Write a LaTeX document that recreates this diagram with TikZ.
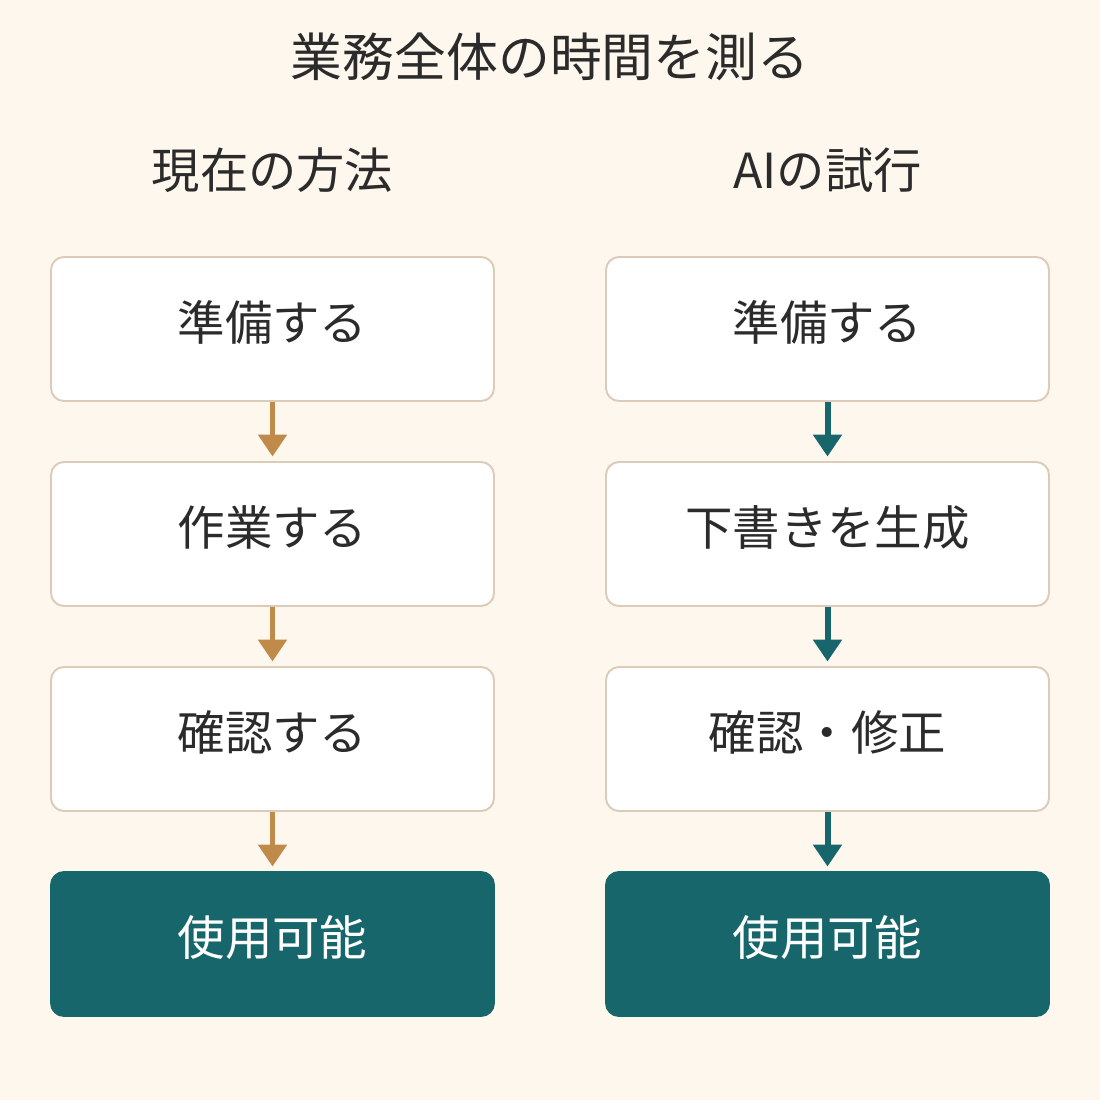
\documentclass[tikz,border=0pt]{standalone}
\usepackage{fontspec}
\setmainfont{Noto Sans CJK JP}
\usetikzlibrary{positioning,arrows.meta}
\definecolor{bgcream}{HTML}{FEF7EE}
\definecolor{edgetan}{HTML}{DCCBB8}
\definecolor{tealdark}{HTML}{17666B}
\definecolor{goldarrow}{HTML}{C08A4A}
\definecolor{inkdark}{HTML}{2B2B2B}

\begin{document}
\begin{tikzpicture}[node distance=4.1cm,on grid,>={Triangle[width=5.6mm,length=4.4mm]},
		stage/.style={rectangle,rounded corners=2.6mm,draw=edgetan,line width=1.1pt,fill=white,
			minimum width=8.86cm,minimum height=2.88cm,text=inkdark,font=\fontsize{27}{30}\selectfont,
			text height=14pt,text depth=1.4pt},
		done/.style={stage,draw=tealdark,fill=tealdark,text=white},
		colhead/.style={text=inkdark,font=\fontsize{27.5}{30}\selectfont},
		flow/.style={->,line width=3.4pt,shorten >=0.9mm}]
		\fill[bgcream] (0,0) rectangle (22,-22);
		\useasboundingbox (0,0) rectangle (22,-22);
		
		\node[text=inkdark,font=\fontsize{29.5}{32}\selectfont] (title) at (11,-1.14) {業務全体の時間を測る};
		\node[colhead] (nowhead) at (5.45,-3.4) {現在の方法};
		\node[colhead] (aihead)  at (16.55,-3.4) {AIの試行};
		
		% current method
		\node[stage] (now1) at (5.45,-6.58) {準備する};
		\node[stage] (now2) [below=of now1] {作業する};
		\node[stage] (now3) [below=of now2] {確認する};
		\node[done]  (now4) [below=of now3] {使用可能};
		
		% AI trial
		\node[stage] (ai1) [right=11.1cm of now1] {準備する};
		\node[stage] (ai2) [below=of ai1] {下書きを生成};
		\node[stage] (ai3) [below=of ai2] {確認・修正};
		\node[done]  (ai4) [below=of ai3] {使用可能};
		
		\path[flow,color=goldarrow]
		(now1) edge (now2)
		(now2) edge (now3)
		(now3) edge (now4);
		\path[flow,color=tealdark]
		(ai1) edge (ai2)
		(ai2) edge (ai3)
		(ai3) edge (ai4);
\end{tikzpicture}
\end{document}
